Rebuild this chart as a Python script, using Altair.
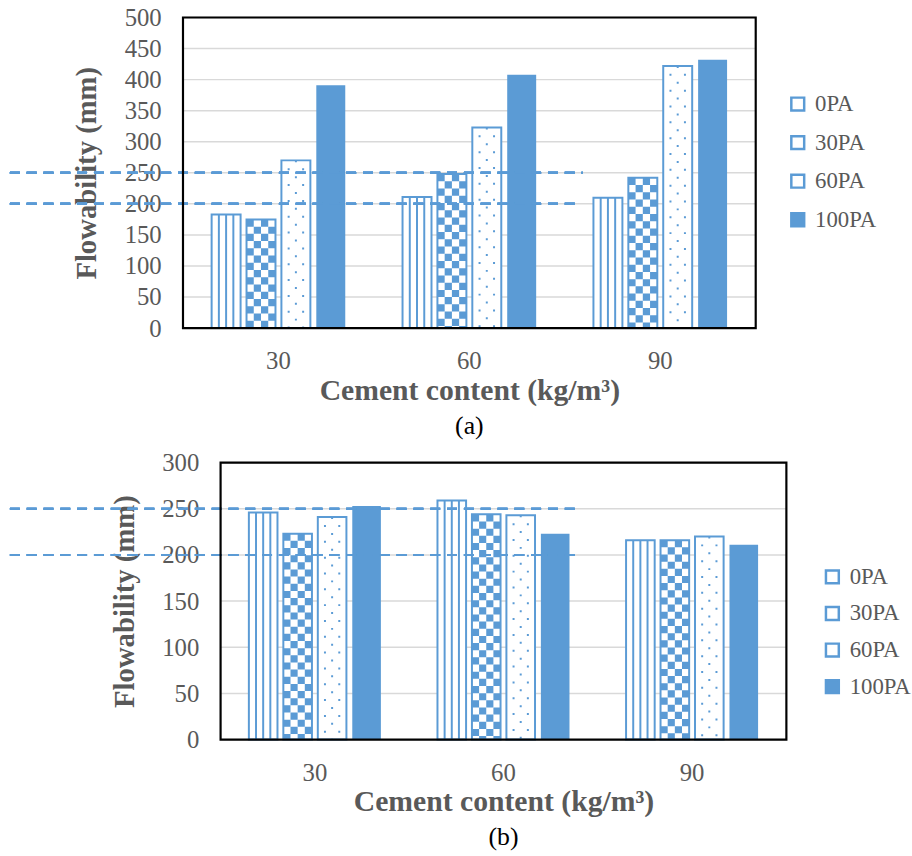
import altair as alt
import pandas as pd

cement = ["30", "60", "90"]
series = ["0PA", "30PA", "60PA", "100PA"]

a_0PA = [183, 211, 210]
a_30PA = [175, 248, 242]
a_60PA = [270, 323, 422]
a_100PA = [391, 408, 432]

b_0PA = [246, 259, 216]
b_30PA = [223, 244, 216]
b_60PA = [241, 243, 220]
b_100PA = [253, 223, 211]

a_ticks = list(range(0, 501, 50))
b_ticks = list(range(0, 301, 50))

ref_high = 250
ref_low = 200

BLUE = "#5B9BD5"
GREY = "#595959"
GRID = "#D9D9D9"
FONT = "Liberation Serif"


def long(cols):
    rows = []
    for s, vals in zip(series, cols):
        for c, v in zip(cement, vals):
            rows.append({"cement": c, "series": s, "flow": v})
    return pd.DataFrame(rows)


def panel(df, ticks, W, H, shift, line_start, end_high, end_low, letter,
          legend_x, legend_y, row_pad):
    # shift: empty room left of the framed plot area inside the view
    GW = W + shift
    bw = W / 3 * 0.7
    step = bw / (4 - 0.17)
    barw = step * (1 - 0.17)
    ymax = ticks[-1]
    base = alt.Chart(df)
    xscale = alt.Scale(range=[shift, GW], paddingInner=0.3, paddingOuter=0.15)
    yscale = alt.Scale(domain=[0, ymax], nice=False)
    x_axis = alt.Axis(title="Cement content (kg/m³)", labelAngle=0,
                      labelFont=FONT, labelFontSize=25, labelColor=GREY,
                      labelPadding=21, ticks=False, domain=False,
                      titleFont=FONT, titleFontSize=30, titleFontWeight="bold",
                      titleColor=GREY, titlePadding=2, titleX=shift + W / 2)
    y_axis = alt.Axis(title="Flowability (mm)", values=ticks, tickCount=len(ticks),
                      labelOverlap=False, offset=-shift, grid=False,
                      labelFont=FONT, labelFontSize=25, labelColor=GREY,
                      labelPadding=22, ticks=False, domain=False,
                      titleFont=FONT, titleFontSize=29, titleFontWeight="bold",
                      titleColor=GREY, titlePadding=23)
    x = alt.X("cement:N", sort=cement, scale=xscale, axis=x_axis)
    y = alt.Y("flow:Q", scale=yscale, axis=y_axis)

    def xo(d=0.0):
        return alt.XOffset("series:N", sort=series,
                           scale=alt.Scale(domain=series, range=[d, bw + d],
                                           paddingInner=0.17, paddingOuter=0))

    y2 = alt.Y2(datum=0)
    layers = []
    # gridlines
    grid_df = pd.DataFrame({"g": ticks[1:]})
    layers.append(alt.Chart(grid_df).mark_rule(color=GRID, strokeWidth=1.5).encode(
        y=alt.Y("g:Q", scale=yscale, axis=y_axis),
        x=alt.value(shift), x2=alt.value(GW)))

    layers.append(base.mark_bar(strokeWidth=0).encode(
        x=x, y=y, xOffset=xo(),
        fill=alt.Fill("series:N", sort=series,
                      scale=alt.Scale(domain=series, range=["white", "white", "white", BLUE]),
                      legend=alt.Legend(title=None, orient="none", legendX=legend_x,
                                        legendY=legend_y, symbolType="square",
                                        symbolSize=169, symbolStrokeColor=BLUE,
                                        symbolStrokeWidth=2.5, labelFont=FONT,
                                        labelFontSize=23, labelColor=GREY,
                                        labelOffset=6, rowPadding=row_pad, padding=0))))

    # vertical stripes (0PA)
    q = barw / 4
    for d in (-q, 0, q):
        layers.append(base.transform_filter(alt.datum.series == "0PA").mark_rule(
            color=BLUE, strokeWidth=2).encode(x=x, y=y, y2=y2, xOffset=xo(d)))
    # checkerboard (30PA)
    for k, d in enumerate((-1.5 * q, -0.5 * q, 0.5 * q, 1.5 * q)):
        layers.append(base.transform_filter(alt.datum.series == "30PA").mark_rule(
            color=BLUE, strokeWidth=q, strokeDash=[q, q],
            strokeDashOffset=(q if k % 2 else 0)).encode(x=x, y=y, y2=y2, xOffset=xo(d)))
    # dots (60PA)
    for k, d in enumerate((-q, 0, q)):
        layers.append(base.transform_filter(alt.datum.series == "60PA").mark_rule(
            color=BLUE, strokeWidth=2, strokeDash=[2, 14],
            strokeDashOffset=(8 if k != 1 else 0)).encode(x=x, y=y, y2=y2, xOffset=xo(d)))
    # outline of patterned bars
    layers.append(base.transform_filter(alt.datum.series != "100PA").mark_bar(
        fillOpacity=0, stroke=BLUE, strokeWidth=2).encode(x=x, y=y, xOffset=xo()))

    # dashed reference lines
    layers.append(alt.Chart(grid_df).mark_rule(color=BLUE, strokeWidth=2, strokeDash=[10, 7]).encode(
        y=alt.Y(datum=ref_high, scale=yscale, axis=y_axis),
        x=alt.value(line_start), x2=alt.value(end_high)))
    layers.append(alt.Chart(grid_df).mark_rule(color=BLUE, strokeWidth=2, strokeDash=[10, 7]).encode(
        y=alt.Y(datum=ref_low, scale=yscale, axis=y_axis),
        x=alt.value(line_start), x2=alt.value(end_low)))

    # plot frame
    frame_df = pd.DataFrame({"k": [0]})
    layers.append(alt.Chart(frame_df).mark_rect(filled=False, stroke="black", strokeWidth=2.2).encode(
        x=alt.value(shift), x2=alt.value(GW), y=alt.value(0), y2=alt.value(H)))

    return alt.layer(*layers).resolve_scale(xOffset="independent").properties(
        width=GW, height=H,
        view=alt.ViewBackground(stroke="transparent"),
        title=alt.TitleParams(letter, orient="bottom", frame="group", anchor="middle",
                              font=FONT, fontSize=26, fontWeight="normal", color="black",
                              offset=8, dx=shift / 2))


pa = panel(long([a_0PA, a_30PA, a_60PA, a_100PA]), a_ticks, 579, 314, 0,
           -175, 404, 397, "(a)", 610, 76, 15)
pb = panel(long([b_0PA, b_30PA, b_60PA, b_100PA]), b_ticks, 572, 280, 38,
           -175, 402, 397, "(b)", 645, 104, 13)

chart = alt.vconcat(pa, pb, spacing=10).resolve_scale(
    fill="independent"
).resolve_legend(fill="independent").properties(
    padding={"left": 8, "top": 0, "right": 0, "bottom": 0}
)

chart.save("out.html", embed_options={"renderer": "svg", "actions": False})
